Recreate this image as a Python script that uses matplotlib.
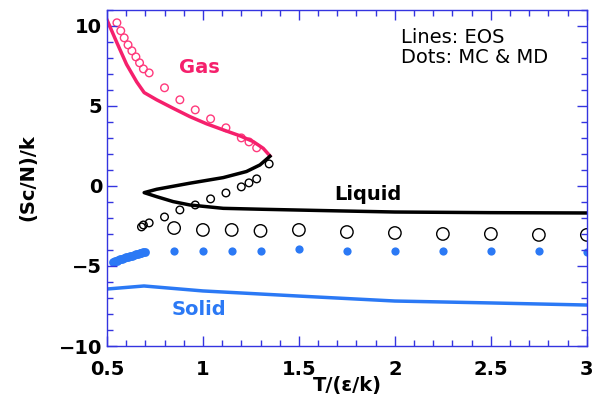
import matplotlib
matplotlib.use("Agg")
import matplotlib.pyplot as plt
from matplotlib.ticker import MultipleLocator

# EOS lines
gas_T = [0.50, 0.55, 0.602, 0.655, 0.694, 0.759, 0.845, 0.932, 1.019,
         1.106, 1.193, 1.262, 1.314, 1.349]
gas_S = [10.38, 9.0, 7.6, 6.5, 5.83, 5.38, 4.85, 4.33, 3.88,
         3.50, 3.13, 2.77, 2.35, 1.88]

liq_T = [1.349, 1.297, 1.227, 1.106, 0.932, 0.759, 0.694, 0.759, 0.845,
         0.932, 1.106, 1.314, 1.627, 2.0, 2.5, 3.0]
liq_S = [1.85, 1.31, 0.90, 0.52, 0.17, -0.21, -0.42, -0.67, -0.98,
         -1.19, -1.40, -1.46, -1.54, -1.63, -1.67, -1.69]

sol_T = [0.50, 0.693, 1.0, 1.5, 2.0, 2.5, 3.0]
sol_S = [-6.44, -6.25, -6.56, -6.88, -7.19, -7.31, -7.44]

# simulation points
gas_dot_T = [0.552, 0.572, 0.59, 0.61, 0.63, 0.651, 0.67, 0.69, 0.72,
             0.80, 0.88, 0.96, 1.04, 1.12, 1.20, 1.24, 1.28]
gas_dot_S = [10.19, 9.69, 9.25, 8.81, 8.44, 8.06, 7.69, 7.31, 7.06,
             6.13, 5.38, 4.75, 4.19, 3.63, 3.0, 2.75, 2.38]

liq_dot_T = [1.345, 1.28, 1.24, 1.20, 1.12, 1.04, 0.96, 0.88, 0.80, 0.72, 0.69, 0.68]
liq_dot_S = [1.375, 0.44, 0.19, -0.06, -0.44, -0.81, -1.19, -1.5, -1.94, -2.31, -2.44, -2.56]

sol_dot_T = [0.85, 1.0, 1.15, 1.30, 1.5, 1.75, 2.0, 2.25, 2.5, 2.75, 3.0]
sol_mc_S = [-2.63, -2.75, -2.75, -2.81, -2.75, -2.88, -2.94, -3.0, -3.0, -3.06, -3.06]
sol_md_S = [-4.06, -4.06, -4.06, -4.06, -3.94, -4.06, -4.06, -4.06, -4.06, -4.06, -4.13]

dense_T = [0.53, 0.54, 0.55, 0.56, 0.57, 0.58, 0.59, 0.60, 0.61, 0.62,
           0.63, 0.64, 0.65, 0.66, 0.67, 0.68, 0.69, 0.70]
dense_S = [-4.75, -4.71, -4.67, -4.63, -4.59, -4.55, -4.51, -4.47, -4.44,
           -4.40, -4.36, -4.32, -4.28, -4.25, -4.21, -4.18, -4.15, -4.13]

pink = "#f5206c"
blue = "#2b79f5"
spine = "#3434e0"

fig = plt.figure(figsize=(5.94, 4.09), dpi=100)
ax = fig.add_axes([0.180, 0.154, 0.808, 0.822])

ax.plot(gas_T, gas_S, color=pink, lw=2.5)
ax.plot(liq_T, liq_S, color="black", lw=2.5)
ax.plot(sol_T, sol_S, color=blue, lw=2.5)

ax.scatter(gas_dot_T, gas_dot_S, s=30, facecolors="none", edgecolors="#ff3a7c", linewidths=1)
ax.scatter(liq_dot_T, liq_dot_S, s=30, facecolors="none", edgecolors="black", linewidths=1)
ax.scatter(sol_dot_T, sol_mc_S, s=80, facecolors="none", edgecolors="black", linewidths=1)
ax.scatter(sol_dot_T, sol_md_S, s=35, color=blue, linewidths=0)
ax.scatter(dense_T, dense_S, s=40, color=blue, linewidths=0)

ax.text(0.98, 7.4, "Gas", color=pink, fontsize=14, fontweight="bold", ha="center", va="center")
ax.text(1.86, -0.56, "Liquid", color="black", fontsize=14, fontweight="bold", ha="center", va="center")
ax.text(0.98, -7.75, "Solid", color=blue, fontsize=14, fontweight="bold", ha="center", va="center")
ax.text(2.03, 8.65, "Lines: EOS\nDots: MC & MD", fontsize=14, ha="left", va="center",
        linespacing=1.05)

ax.set_xlim(0.5, 3)
ax.set_ylim(-10, 11)
ax.xaxis.set_minor_locator(MultipleLocator(0.1))
ax.yaxis.set_major_locator(MultipleLocator(5))
ax.yaxis.set_minor_locator(MultipleLocator(1))
ax.set_xticks([0.5, 1, 1.5, 2, 2.5, 3])
ax.set_xticklabels(["0.5", "1", "1.5", "2", "2.5", "3"])
ax.tick_params(which="both", direction="in", top=True, right=True, color=spine,
               labelsize=14)
ax.tick_params(axis="x", pad=10)
ax.tick_params(which="major", length=7, width=1)
ax.tick_params(which="minor", length=4, width=1)
for lbl in ax.get_xticklabels() + ax.get_yticklabels():
    lbl.set_fontweight("bold")
for s in ax.spines.values():
    s.set_color(spine)
    s.set_linewidth(1)

ax.set_xlabel("T/(ε/k)", fontsize=14, fontweight="bold", labelpad=-2)
ax.set_ylabel("(Sc/N)/k", fontsize=14, fontweight="bold", labelpad=15)

fig.savefig("out.png", dpi=100)
